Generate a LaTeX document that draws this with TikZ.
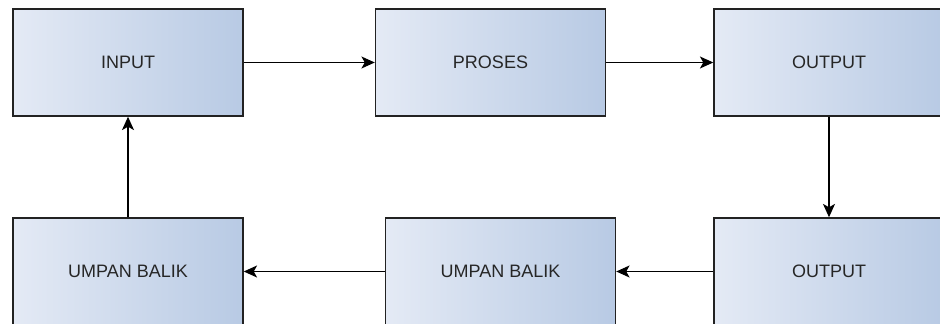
\documentclass[tikz,border=0pt]{standalone}
\usepackage{fontspec}
\setmainfont{Liberation Sans}
\usetikzlibrary{arrows.meta}
\definecolor{boxL}{RGB}{228,234,245}
\definecolor{boxR}{RGB}{184,202,228}
\definecolor{edge}{RGB}{34,34,34}
\tikzset{
  blockbox/.style={draw=edge, line width=1.1pt, left color=boxL, right color=boxR,
    minimum width=172.5pt, minimum height=80.25pt, inner sep=0pt,
    font=\fontsize{13.5pt}{15pt}\selectfont, text=black!85},
  flow/.style={draw=black, line width=0.9pt, -{Stealth[length=10pt,width=9pt,inset=2.5pt]}}
}
\begin{document}
\begin{tikzpicture}[x=0.75pt,y=-0.75pt]
\useasboundingbox (0,0) rectangle (940,324);
\clip (0,0) rectangle (940,324);
\node[blockbox] (inp) at (128,62.5) {INPUT};
\node[blockbox] (pro) at (490.5,62.5) {PROSES};
\node[blockbox] (out1) at (829,62.5) {OUTPUT};
\node[blockbox] (out2) at (829,271.5) {OUTPUT};
\node[blockbox] (ub2) at (500.5,271.5) {UMPAN BALIK};
\node[blockbox] (ub1) at (128,271.5) {UMPAN BALIK};
\draw[flow] (inp.east) -- (pro.west);
\draw[flow] (pro.east) -- (out1.west);
\draw[flow] (out1.south) -- (out2.north);
\draw[flow] (out2.west) -- (ub2.east);
\draw[flow] (ub2.west) -- (ub1.east);
\draw[flow] (ub1.north) -- (inp.south);
\end{tikzpicture}
\end{document}
